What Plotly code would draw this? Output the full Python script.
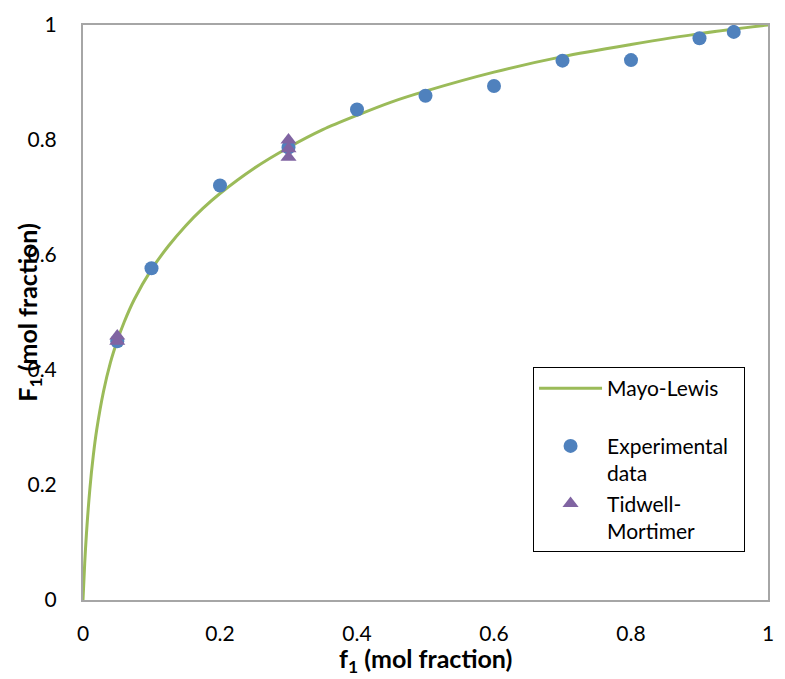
import plotly.graph_objects as go

# Mayo-Lewis copolymer composition curve (f1 -> F1)
ml_f1 = [0.0, 0.0025, 0.005, 0.01, 0.015, 0.02, 0.03, 0.04, 0.05, 0.06, 0.075,
         0.1, 0.125, 0.15, 0.175, 0.2, 0.25, 0.3, 0.35, 0.4, 0.45, 0.5, 0.6,
         0.7, 0.8, 0.9, 1.0]
ml_F1 = [0.0, 0.064, 0.115, 0.193, 0.251, 0.296, 0.363, 0.413, 0.451, 0.483,
         0.523, 0.575, 0.616, 0.651, 0.681, 0.707, 0.751, 0.787, 0.818, 0.843,
         0.866, 0.885, 0.918, 0.945, 0.966, 0.985, 1.0]

# Experimental composition data
exp_f1 = [0.05, 0.1, 0.2, 0.3, 0.4, 0.5, 0.6, 0.7, 0.8, 0.9, 0.95]
exp_F1 = [0.45, 0.577, 0.721, 0.787, 0.853, 0.877, 0.894, 0.938, 0.939, 0.977, 0.988]

# Tidwell-Mortimer estimates
tm_f1 = [0.05, 0.05, 0.3, 0.3, 0.3]
tm_F1 = [0.45, 0.459, 0.77, 0.785, 0.80]

x_ticks = [0, 0.2, 0.4, 0.6, 0.8, 1]
y_ticks = [0, 0.2, 0.4, 0.6, 0.8, 1]

GREEN = "#9BBB59"
BLUE = "#4F81BD"
PURPLE = "#8064A2"
FONT = "Lato, 'Open Sans', sans-serif"

fig = go.Figure()
fig.add_trace(go.Scatter(
    x=ml_f1, y=ml_F1, mode="lines", name="Mayo-Lewis<br>&nbsp;",
    line=dict(color=GREEN, width=3, shape="spline", smoothing=0.8),
))
fig.add_trace(go.Scatter(
    x=exp_f1, y=exp_F1, mode="markers", name="Experimental&nbsp;&nbsp;<br>data",
    marker=dict(color=BLUE, size=14, symbol="circle"),
))
fig.add_trace(go.Scatter(
    x=tm_f1, y=tm_F1, mode="markers", name="Tidwell-<br>Mortimer",
    marker=dict(color=PURPLE, size=14, symbol="triangle-up"),
))

axis_common = dict(
    showgrid=False, zeroline=False, showline=True, mirror=True,
    linecolor="#A6A6A6", linewidth=2, ticks="",
    tickfont=dict(family=FONT, size=21, color="#000000"),
)

fig.update_layout(
    width=785, height=679,
    margin=dict(l=83, r=11, t=22, b=79),
    paper_bgcolor="white", plot_bgcolor="white",
    font=dict(family=FONT, color="#000000"),
    xaxis=dict(range=[0, 1], tickvals=x_ticks,
               ticktext=[f"{v:g}" for v in x_ticks],
               ticklabelstandoff=14, **axis_common),
    yaxis=dict(range=[0, 1], tickvals=y_ticks,
               ticktext=[f"{v:g}" for v in y_ticks],
               ticklabelstandoff=20, **axis_common),
    legend=dict(
        x=0.657, y=0.405, xanchor="left", yanchor="top",
        bgcolor="white", bordercolor="#000000", borderwidth=1,
        font=dict(family=FONT, size=21, color="#000000"),
        valign="top", itemwidth=63,
    ),
    showlegend=True,
)

# Axis titles
fig.add_annotation(
    text="<b>f<sub>1</sub> (mol fraction)</b>", xref="paper", yref="paper",
    x=0.5, y=-0.104, xanchor="center", yanchor="middle", showarrow=False,
    font=dict(family=FONT, size=25, color="#000000"),
)
fig.add_annotation(
    text="<b>F<sub>1</sub> (mol fraction)</b>", xref="paper", yref="paper",
    x=-0.08, y=0.5, xanchor="center", yanchor="middle", textangle=-90,
    showarrow=False, font=dict(family=FONT, size=25, color="#000000"),
)

fig.write_html("out.html")
